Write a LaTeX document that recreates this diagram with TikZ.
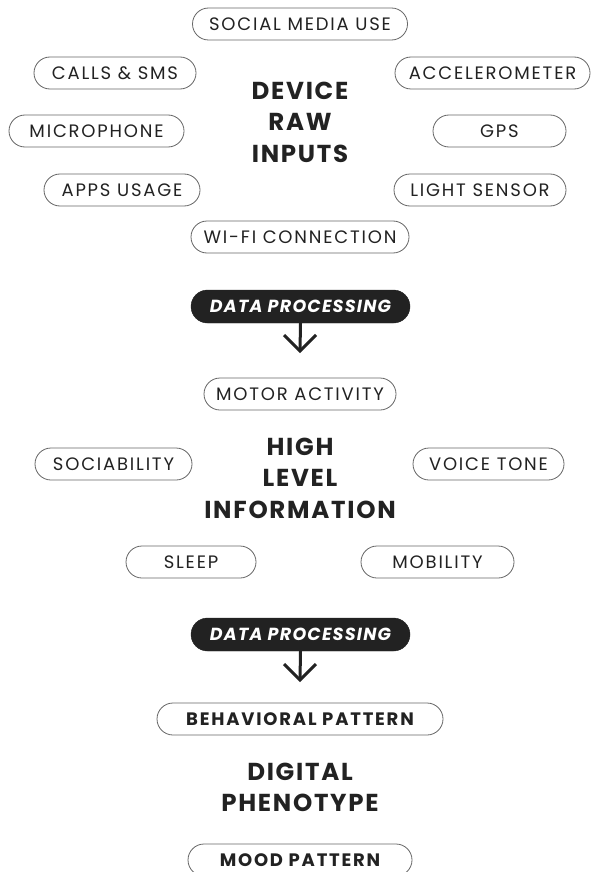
\documentclass[tikz,border=0pt]{standalone}
\usepackage{fontspec}
\setmainfont{Poppins}[LetterSpace=10]
\newfontfamily\headfont{Poppins}[LetterSpace=7,UprightFont=* Bold]
\newfontfamily\pillbold{Poppins}[LetterSpace=10,UprightFont=* Bold]
\newfontfamily\procfont{Poppins}[LetterSpace=7,UprightFont=* Bold Italic]
\usetikzlibrary{shapes.misc,calc}
\definecolor{ink}{HTML}{222222}
\definecolor{rim}{HTML}{666666}
\tikzset{
  pill/.style={rounded rectangle, draw=rim, line width=0.8pt, minimum height=32pt,
    inner xsep=0pt, text=ink, font=\fontsize{18}{20}\selectfont},
  boldpill/.style={pill, font=\pillbold\fontsize{18}{20}\selectfont},
  procpill/.style={rounded rectangle, fill=ink, draw=ink, minimum height=33pt, minimum width=219pt,
    inner xsep=0pt, text=white, font=\procfont\fontsize{17.5}{20}\selectfont},
  heading/.style={align=center, text=ink, font=\headfont\fontsize{24.5}{31.5}\selectfont},
  flow/.style={draw=ink, line width=3pt}
}
\begin{document}
\begin{tikzpicture}[x=1pt, y=-1pt]
\useasboundingbox (0,0) rectangle (596,872);
\fill[white] (0,0) rectangle (596,872);

% device raw inputs
\node[pill, minimum width=215pt] (social) at (300,24) {SOCIAL MEDIA USE};
\node[pill, minimum width=162pt] (calls) at (115,73) {CALLS \& SMS};
\node[pill, minimum width=195pt] (accel) at (492.5,73) {ACCELEROMETER};
\node[pill, minimum width=175pt] (micro) at (96.5,131) {MICROPHONE};
\node[pill, minimum width=133pt] (gps) at (499.5,131) {GPS};
\node[pill, minimum width=156pt] (apps) at (122,190) {APPS USAGE};
\node[pill, minimum width=172pt] (light) at (480,190) {LIGHT SENSOR};
\node[pill, minimum width=218pt] (wifi) at (300,237) {WI-FI CONNECTION};
\node[heading] (raw) at (300,122) {DEVICE\\RAW\\INPUTS};

% first processing step
\node[procpill] (proc1) at (300.5,306.5) {DATA PROCESSING};
\coordinate (tip1) at (300,351);
\draw[flow] (proc1.south) -- (tip1);
\draw[flow, line join=miter] ($(tip1)+(-16,-16)$) -- (tip1) -- ($(tip1)+(16,-16)$);

% high level information
\node[pill, minimum width=192pt] (motor) at (300,394) {MOTOR ACTIVITY};
\node[pill, minimum width=157pt] (soc) at (113.5,464) {SOCIABILITY};
\node[pill, minimum width=151pt] (voice) at (488.5,464) {VOICE TONE};
\node[pill, minimum width=130pt] (sleep) at (191,562) {SLEEP};
\node[pill, minimum width=153pt] (mob) at (437.5,562) {MOBILITY};
\node[heading] (high) at (300,478) {HIGH\\LEVEL\\INFORMATION};

% second processing step
\node[procpill] (proc2) at (300.5,634.5) {DATA PROCESSING};
\coordinate (tip2) at (300,680);
\draw[flow] (proc2.south) -- (tip2);
\draw[flow, line join=miter] ($(tip2)+(-16,-16)$) -- (tip2) -- ($(tip2)+(16,-16)$);

% digital phenotype
\node[boldpill, minimum width=286pt] (behav) at (300,719) {BEHAVIORAL PATTERN};
\node[heading] (pheno) at (300,787.5) {DIGITAL\\PHENOTYPE};
\node[boldpill, minimum width=224pt] (mood) at (300,860) {MOOD PATTERN};
\end{tikzpicture}
\end{document}
